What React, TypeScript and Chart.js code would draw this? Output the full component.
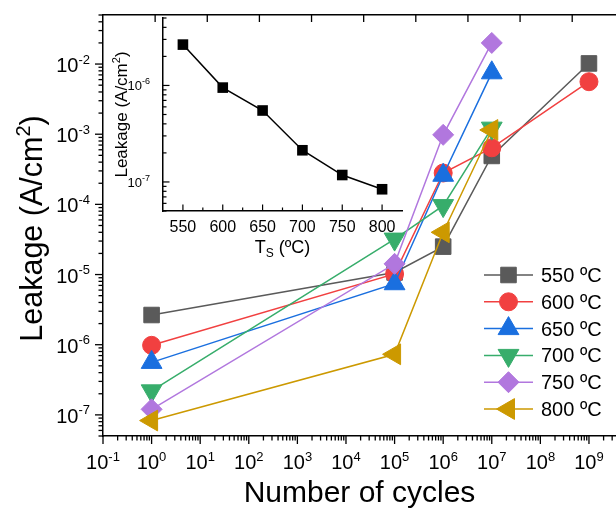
import React, { useEffect, useRef } from 'react';
import { Chart, registerables } from 'chart.js';
import { drawPoint } from 'chart.js/helpers';

Chart.register(...registerables);

const FONT = '"Liberation Sans", Arial, Helvetica, sans-serif';

// ---------- data (main chart) ----------
const cycles = [1, 1e5, 1e6, 1e7, 1e9];
const seriesLabels = ['550 ºC', '600 ºC', '650 ºC', '700 ºC', '750 ºC', '800 ºC'];
const leak550 = [2.65e-6, 1.07e-5, 2.5e-5, 4.9e-4, 1.02e-2];
const leak600 = [9.8e-7, 1.02e-5, 2.8e-4, 6.4e-4, 5.6e-3];
const leak650 = [5.6e-7, 7.4e-6, 2.6e-4, 7.5e-3];
const leak700 = [2.2e-7, 3.2e-5, 9.6e-5, 1.22e-3];
const leak750 = [1.2e-7, 1.42e-5, 9.8e-4, 2.0e-2];
const leak800 = [8.3e-8, 7.3e-7, 4.0e-5, 1.15e-3];
const xTickExps = [-1, 0, 1, 2, 3, 4, 5, 6, 7, 8, 9];
const yTickExps = [-7, -6, -5, -4, -3, -2];

// ---------- data (inset) ----------
const insetTemps = [550, 600, 650, 700, 750, 800];
const insetLeak = [2.65e-6, 9.5e-7, 5.5e-7, 2.13e-7, 1.18e-7, 8.4e-8];
const insetXTicks = [550, 600, 650, 700, 750, 800];
const insetYTickExps = [-7, -6];

// ---------- styles ----------
const colors = ['#5a5a5a', '#f14040', '#1a6fdf', '#37ad6b', '#b177de', '#cc9900'];
const pointStyles = ['rect', 'circle', 'triangle', 'triangle', 'rectRot', 'triangle'];
const rotations = [0, 0, 0, 180, 0, 270];
const radii = [11, 9, 12, 12, 10.5, 12];
const allSeries = [leak550, leak600, leak650, leak700, leak750, leak800];

function logMinor(min: number, max: number) {
  const out: { v: number; major: boolean }[] = [];
  for (let e = Math.floor(Math.log10(min)); e <= Math.ceil(Math.log10(max)); e++) {
    for (let m = 1; m <= 9; m++) {
      const v = m * Math.pow(10, e);
      if (v >= min * 0.99999 && v <= max * 1.00001) out.push({ v, major: m === 1 });
    }
  }
  return out;
}

function drawPow(ctx: CanvasRenderingContext2D, exp: number, x: number, y: number, align: 'center' | 'right', base: number, sup: number, rise: number) {
  const bf = `${base}px ${FONT}`;
  const sf = `${sup}px ${FONT}`;
  const es = String(exp);
  ctx.font = bf;
  const wb = ctx.measureText('10').width;
  ctx.font = sf;
  const we = ctx.measureText(es).width;
  const total = wb + we;
  const x0 = align === 'center' ? x - total / 2 : x - total;
  ctx.textAlign = 'left';
  ctx.textBaseline = 'alphabetic';
  ctx.font = bf;
  ctx.fillText('10', x0, y);
  ctx.font = sf;
  ctx.fillText(es, x0 + wb, y - rise);
}

// rotated title "Leakage (A/cm" + sup "2" + ")"
function drawLeakTitle(ctx: CanvasRenderingContext2D, baseX: number, centerY: number, size: number) {
  const bf = `${size}px ${FONT}`;
  const sf = `${Math.round(size * 0.66)}px ${FONT}`;
  ctx.save();
  ctx.translate(baseX, centerY);
  ctx.rotate(-Math.PI / 2);
  ctx.font = bf;
  const w1 = ctx.measureText('Leakage (A/cm').width;
  const w3 = ctx.measureText(')').width;
  ctx.font = sf;
  const w2 = ctx.measureText('2').width;
  let x = -(w1 + w2 + w3) / 2;
  ctx.fillStyle = '#000';
  ctx.textAlign = 'left';
  ctx.textBaseline = 'alphabetic';
  ctx.font = bf;
  ctx.fillText('Leakage (A/cm', x, 0);
  x += w1;
  ctx.font = sf;
  ctx.fillText('2', x, -size * 0.4);
  x += w2;
  ctx.font = bf;
  ctx.fillText(')', x, 0);
  ctx.restore();
}

const mainAxesPlugin = {
  id: 'mainAxes',
  afterDraw(chart: any) {
    const ctx: CanvasRenderingContext2D = chart.ctx;
    const xs = chart.scales.x;
    const ys = chart.scales.y;
    const xt = chart.scales.xTop;
    const ca = chart.chartArea;
    ctx.save();
    ctx.strokeStyle = '#000';
    ctx.fillStyle = '#000';
    ctx.lineWidth = 1.3;
    // bottom ticks (outward)
    for (const t of logMinor(xs.min, xs.max)) {
      const px = xs.getPixelForValue(t.v);
      ctx.beginPath();
      ctx.moveTo(px, ca.bottom);
      ctx.lineTo(px, ca.bottom + (t.major ? 8 : 4.5));
      ctx.stroke();
    }
    // left ticks (outward)
    for (const t of logMinor(ys.min, ys.max)) {
      const py = ys.getPixelForValue(t.v);
      ctx.beginPath();
      ctx.moveTo(ca.left, py);
      ctx.lineTo(ca.left - (t.major ? 8 : 4.5), py);
      ctx.stroke();
    }
    // top ticks (inward)
    for (let v = 0.5; v < xt.max; v += 0.5) {
      const px = xt.getPixelForValue(v);
      ctx.beginPath();
      ctx.moveTo(px, ca.top);
      ctx.lineTo(px, ca.top + 7);
      ctx.stroke();
    }
    // labels
    for (const e of xTickExps) {
      const px = xs.getPixelForValue(Math.pow(10, e));
      drawPow(ctx, e, px, ca.bottom + 33, 'center', 20, 13, 8.5);
    }
    for (const e of yTickExps) {
      const py = ys.getPixelForValue(Math.pow(10, e));
      drawPow(ctx, e, ca.left - 13, py + 8, 'right', 20, 13, 8.5);
    }
    drawLeakTitle(ctx, 42, (ca.top + ca.bottom) / 2 + 3, 30.5);
    // legend
    const lx0 = 484, lx1 = 533, ly0 = 275, dy = 26.8;
    chart.data.datasets.forEach((ds: any, i: number) => {
      const y = ly0 + i * dy;
      ctx.strokeStyle = ds.borderColor;
      ctx.lineWidth = 1.5;
      ctx.beginPath();
      ctx.moveTo(lx0, y);
      ctx.lineTo(lx1, y);
      ctx.stroke();
      ctx.fillStyle = ds.pointBackgroundColor;
      ctx.strokeStyle = ds.pointBorderColor;
      ctx.lineWidth = 1;
      drawPoint(ctx, { pointStyle: ds.pointStyle, rotation: ds.pointRotation, radius: ds.pointRadius, borderWidth: 1 } as any, (lx0 + lx1) / 2, y);
      ctx.fillStyle = '#000';
      ctx.font = `20px ${FONT}`;
      ctx.textAlign = 'left';
      ctx.textBaseline = 'alphabetic';
      ctx.fillText(ds.label, 541, y + 7);
    });
    ctx.restore();
  },
};

const insetAxesPlugin = {
  id: 'insetAxes',
  afterDraw(chart: any) {
    const ctx: CanvasRenderingContext2D = chart.ctx;
    const xs = chart.scales.x;
    const ys = chart.scales.y;
    const ca = chart.chartArea;
    ctx.save();
    ctx.strokeStyle = '#000';
    ctx.fillStyle = '#000';
    ctx.lineWidth = 1.2;
    for (let v = xs.min + 25; v < xs.max; v += 25) {
      const px = xs.getPixelForValue(v);
      const major = v % 50 === 0;
      ctx.beginPath();
      ctx.moveTo(px, ca.bottom);
      ctx.lineTo(px, ca.bottom - (major ? 6.5 : 3.5));
      ctx.stroke();
    }
    for (const t of logMinor(ys.min, ys.max)) {
      const py = ys.getPixelForValue(t.v);
      ctx.beginPath();
      ctx.moveTo(ca.left, py);
      ctx.lineTo(ca.left + (t.major ? 6.5 : 3.5), py);
      ctx.stroke();
    }
    ctx.font = `16px ${FONT}`;
    ctx.textAlign = 'center';
    ctx.textBaseline = 'alphabetic';
    for (const v of insetXTicks) {
      ctx.fillText(String(v), xs.getPixelForValue(v), ca.bottom + 21);
    }
    for (const e of insetYTickExps) {
      const py = ys.getPixelForValue(Math.pow(10, e));
      drawPow(ctx, e, ca.left - 13, py + 5, 'right', 13, 9, 6);
    }
    drawLeakTitle(ctx, 27, (ca.top + ca.bottom) / 2, 17);
    // x title: T_S (ºC)
    const f1 = `18px ${FONT}`, f2 = `12px ${FONT}`;
    ctx.font = f1;
    const wT = ctx.measureText('T').width;
    const wR = ctx.measureText(' (ºC)').width;
    ctx.font = f2;
    const wS = ctx.measureText('S').width;
    const total = wT + wS + wR;
    const cx = (ca.left + ca.right) / 2;
    let x = cx - total / 2;
    const base = ca.bottom + 42;
    ctx.textAlign = 'left';
    ctx.fillStyle = '#000';
    ctx.font = f1;
    ctx.fillText('T', x, base);
    x += wT;
    ctx.font = f2;
    ctx.fillText('S', x, base + 4);
    x += wS;
    ctx.font = f1;
    ctx.fillText(' (ºC)', x, base);
    ctx.restore();
  },
};

function mainConfig(): any {
  const datasets = allSeries.map((arr, i) => ({
    label: seriesLabels[i],
    data: arr.map((y, j) => ({ x: cycles[j], y })),
    borderColor: colors[i],
    backgroundColor: colors[i],
    pointBackgroundColor: colors[i],
    pointBorderColor: colors[i],
    borderWidth: 1.5,
    pointStyle: pointStyles[i],
    pointRotation: rotations[i],
    pointRadius: radii[i],
    pointBorderWidth: 1,
    tension: 0,
    order: 6 - i,
    clip: false,
  }));
  return {
    type: 'line',
    data: { datasets },
    options: {
      responsive: false,
      animation: false,
      devicePixelRatio: 1,
      layout: { autoPadding: false, padding: { top: 15, left: 0, right: 0, bottom: 0 } },
      plugins: { legend: { display: false }, tooltip: { enabled: false } },
      scales: {
        x: {
          type: 'logarithmic',
          position: 'bottom',
          min: 0.1,
          max: 3.6e9,
          afterFit: (s: any) => { s.height = 81; },
          ticks: { display: false },
          grid: { display: false },
          border: { display: true, color: '#000', width: 1.5 },
          title: { display: true, text: 'Number of cycles', color: '#000', font: { size: 30, family: FONT }, padding: { top: 0, bottom: 5 } },
        },
        xTop: {
          type: 'linear',
          position: 'top',
          min: 0,
          max: 4.92,
          afterFit: (s: any) => { s.height = 0; },
          ticks: { display: false },
          grid: { display: false },
          border: { display: true, color: '#000', width: 1.5 },
        },
        y: {
          type: 'logarithmic',
          position: 'left',
          min: 5e-8,
          max: 5e-2,
          afterFit: (s: any) => { s.width = 103; },
          ticks: { display: false },
          grid: { display: false },
          border: { display: true, color: '#000', width: 1.5 },
        },
      },
    },
    plugins: [mainAxesPlugin],
  };
}

function insetConfig(): any {
  return {
    type: 'line',
    data: {
      datasets: [{
        label: 'Leakage',
        data: insetTemps.map((t, i) => ({ x: t, y: insetLeak[i] })),
        borderColor: '#000',
        backgroundColor: '#000',
        borderWidth: 1.5,
        pointStyle: 'rect',
        pointRadius: 7.5,
        pointBorderWidth: 0,
        tension: 0,
      }],
    },
    options: {
      responsive: false,
      animation: false,
      devicePixelRatio: 1,
      layout: { autoPadding: false, padding: { top: 13, left: 0, right: 8, bottom: 0 } },
      plugins: { legend: { display: false }, tooltip: { enabled: false } },
      scales: {
        x: {
          type: 'linear',
          position: 'bottom',
          min: 525,
          max: 825,
          afterFit: (s: any) => { s.height = 59; },
          ticks: { display: false },
          grid: { display: false },
          border: { display: true, color: '#000', width: 1.5 },
        },
        y: {
          type: 'logarithmic',
          position: 'left',
          min: 5e-8,
          max: 5e-6,
          afterFit: (s: any) => { s.width = 63; },
          ticks: { display: false },
          grid: { display: false },
          border: { display: true, color: '#000', width: 1.5 },
        },
      },
    },
    plugins: [insetAxesPlugin],
  };
}

export default function App() {
  const mainRef = useRef<HTMLCanvasElement>(null);
  const insetRef = useRef<HTMLCanvasElement>(null);
  useEffect(() => {
    const c1 = new Chart(mainRef.current as HTMLCanvasElement, mainConfig());
    const c2 = new Chart(insetRef.current as HTMLCanvasElement, insetConfig());
    return () => { c1.destroy(); c2.destroy(); };
  }, []);
  return (
    <div style={{ position: 'fixed', left: 0, top: 0, width: 616, height: 517, background: '#fff' }}>
      <canvas ref={mainRef} width={616} height={517} style={{ position: 'absolute', left: 0, top: 0, width: 616, height: 517 }} />
      <canvas ref={insetRef} width={310} height={265} style={{ position: 'absolute', left: 100, top: 5, width: 310, height: 265 }} />
    </div>
  );
}
